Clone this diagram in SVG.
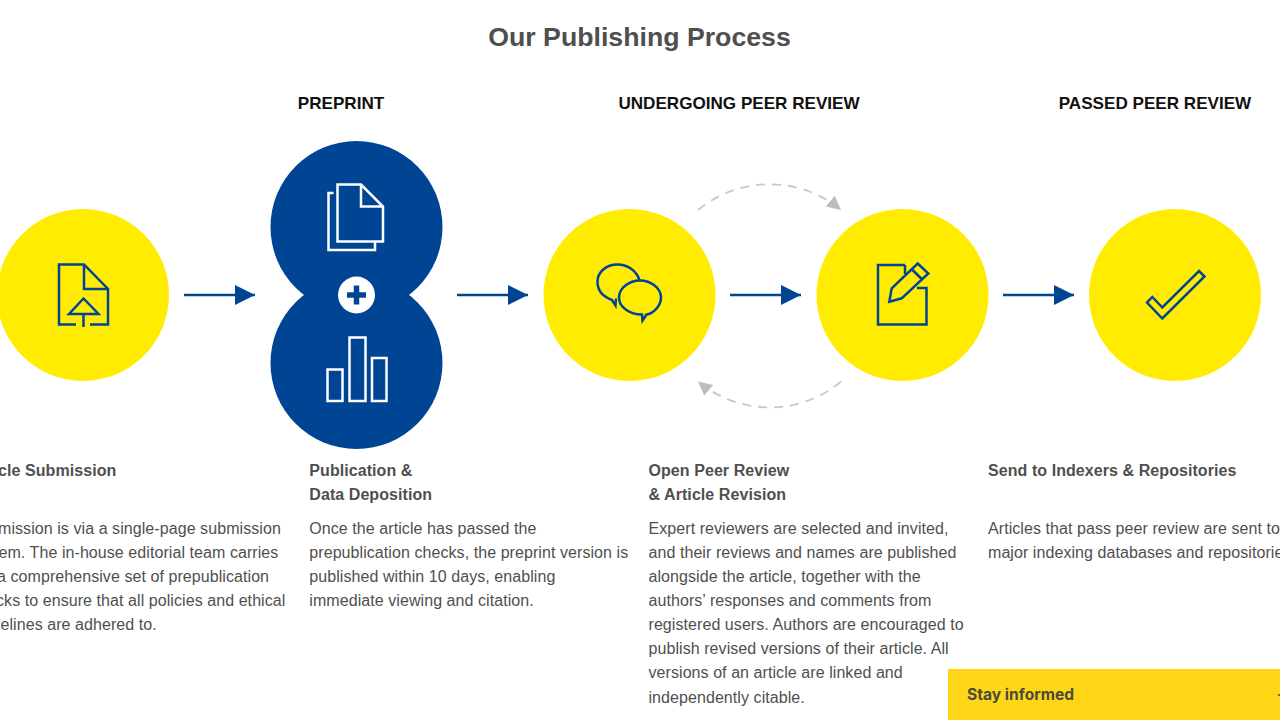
<svg xmlns="http://www.w3.org/2000/svg" width="1280" height="720" viewBox="0 0 1280 720">
<style>
text{font-family:"Liberation Sans",Arial,sans-serif;fill:#4f4f4f}
.title{font-size:26.700px;font-weight:700;text-anchor:middle}
.head{font-size:17.100px;font-weight:700;fill:#111;text-anchor:middle}
.sub{font-size:16px;font-weight:700;letter-spacing:.07px}
.body{font-size:16px;letter-spacing:.07px}
.y{fill:#ffec00}
.b{fill:#004494}
.ic{fill:none;stroke:#004494;stroke-width:2.500}
.iw{fill:none;stroke:#fff;stroke-width:2.500}
.ar{fill:none;stroke:#004494;stroke-width:2.400;marker-end:url(#ah)}
.gr{fill:none;stroke:#c8c8c8;stroke-width:1.800;stroke-dasharray:9 7;marker-end:url(#gh)}
</style>
<defs>
<marker id="ah" markerUnits="userSpaceOnUse" markerWidth="22" markerHeight="22" refX="20" refY="10" orient="auto"><path d="M0 0L20 10L0 20Z" fill="#004494"/></marker>
<marker id="gh" markerUnits="userSpaceOnUse" markerWidth="16" markerHeight="16" refX="14" refY="7" orient="auto"><path d="M0 0L14 7L0 14Z" fill="#bdbdbd"/></marker>
</defs>
<rect width="1280" height="720" fill="#fff"/>
<text class="title" x="639.500" y="46">Our Publishing Process</text>
<text class="head" x="341" y="109">PREPRINT</text>
<text class="head" x="739" y="109">UNDERGOING PEER REVIEW</text>
<text class="head" x="1155" y="109">PASSED PEER REVIEW</text>
<g id="connectors">
<path class="ar" d="M184 295H255"/>
<path class="ar" d="M457 295H528"/>
<path class="ar" d="M730 295H801"/>
<path class="ar" d="M1003 295H1074"/>
<path class="gr" d="M698 210C740 175.700 800 175.700 841 210"/>
<path class="gr" d="M841 381.500C800 416 740 416 698 381.500"/>
</g>
<g id="node-submission">
<circle class="y" cx="83" cy="295" r="86"/>
<path class="ic" d="M76 324.500H59V264.500H84L108 289V324.500H90M84 264.500V289H108"/>
<path class="ic" d="M83.500 298.500L69 314H98.500ZM83.500 314V327"/>
</g>
<g id="node-preprint">
<circle class="b" cx="356.500" cy="227" r="86"/>
<circle class="b" cx="356.500" cy="363" r="86"/>
<circle cx="356.500" cy="295" r="18.500" fill="#fff"/>
<path d="M356.500 285.500V304.500M347 295H366" stroke="#004494" stroke-width="5.500" fill="none"/>
<path class="iw" d="M337.500 184.500H361L383 206.500V241.500H337.500ZM361 184.500V206.500H383"/>
<path class="iw" d="M333.500 193H328.500V250H375V242"/>
<rect class="iw" x="327.500" y="369.500" width="15" height="31.500"/>
<rect class="iw" x="349.500" y="337.500" width="16" height="63.500"/>
<rect class="iw" x="372" y="358" width="14.500" height="43"/>
</g>
<g id="node-open-review">
<circle class="y" cx="629.500" cy="295" r="86"/>
<path class="ic" d="M639.500 280C636 270 627 264.500 617.500 264.500C606 264.500 597.500 272 597.500 282C597.500 291 604 297 612 300L615.500 305.500L616 298.500"/>
<path class="ic" d="M640 280.500C651 280.500 661 288 661 297.500C661 307 652 314 646.500 314.500L642.500 320.500L642 314.500C630 314.500 619 307.500 619 297.500C619 288 629 280.500 640 280.500Z"/>
</g>
<g id="node-revision">
<circle class="y" cx="902.500" cy="295" r="86"/>
<path class="ic" d="M905 265H878V324.500H926.500V288H917M905 265V274"/>
<path class="ic" d="M917.700 263.500L928.300 273.500L901.700 298.300L889.300 301.700L891.700 288.300ZM911.500 269L921.700 279"/>
</g>
<g id="node-indexing">
<circle class="y" cx="1175" cy="295" r="86"/>
<path class="ic" d="M1199 271L1204.500 276.500L1162.300 318.500L1147 302.500L1152.300 297L1162.300 307.500Z"/>
</g>
<g id="text-submission">
<text class="sub" x="-2" y="476">cle Submission</text>
<text class="body" x="-2" y="534">mission is via a single-page submission</text>
<text class="body" x="-1.500" y="558">em. The in-house editorial team carries</text>
<text class="body" x="-3" y="582">a comprehensive set of prepublication</text>
<text class="body" x="-4" y="606">cks to ensure that all policies and ethical</text>
<text class="body" x="0.500" y="630">elines are adhered to.</text>
</g>
<g id="text-preprint">
<text class="sub" x="309.300" y="476">Publication &amp;</text>
<text class="sub" x="309.300" y="500">Data Deposition</text>
<text class="body" x="309.300" y="534">Once the article has passed the</text>
<text class="body" x="309.300" y="558">prepublication checks, the preprint version is</text>
<text class="body" x="309.300" y="582">published within 10 days, enabling</text>
<text class="body" x="309.300" y="606">immediate viewing and citation.</text>
</g>
<g id="text-review">
<text class="sub" x="648.500" y="476">Open Peer Review</text>
<text class="sub" x="648.500" y="500">&amp; Article Revision</text>
<text class="body" x="648.500" y="534">Expert reviewers are selected and invited,</text>
<text class="body" x="648.500" y="558">and their reviews and names are published</text>
<text class="body" x="648.500" y="582">alongside the article, together with the</text>
<text class="body" x="648.500" y="606">authors’ responses and comments from</text>
<text class="body" x="648.500" y="630">registered users. Authors are encouraged to</text>
<text class="body" x="648.500" y="654">publish revised versions of their article. All</text>
<text class="body" x="648.500" y="678.300">versions of an article are linked and</text>
<text class="body" x="648.500" y="702.500">independently citable.</text>
</g>
<g id="text-indexing">
<text class="sub" x="988" y="476">Send to Indexers &amp; Repositories</text>
<text class="body" x="988" y="534">Articles that pass peer review are sent to</text>
<text class="body" x="988" y="558">major indexing databases and repositorie</text>
</g>
<g id="stay-informed">
<rect x="948" y="669" width="332" height="51" fill="#ffd617"/>
<text x="967" y="700" style="font-family:Inter,Roboto,sans-serif;font-size:15.600px;font-weight:700;fill:#4a4a3a">Stay informed</text>
<path d="M1278 695H1280" stroke="#4a4a3a" stroke-width="1.500"/>
</g>
</svg>
